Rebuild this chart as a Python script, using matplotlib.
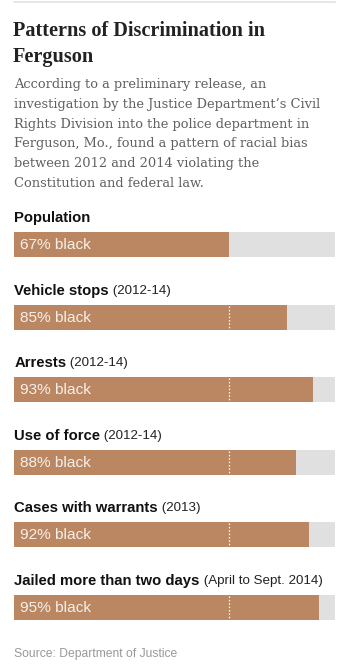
import matplotlib
matplotlib.use("Agg")
import matplotlib.pyplot as plt

categories = ["Population", "Vehicle stops", "Arrests", "Use of force",
              "Cases with warrants", "Jailed more than two days"]
periods = ["", "(2012-14)", "(2012-14)", "(2012-14)", "(2013)", "(April to Sept. 2014)"]
values = [67, 85, 93, 88, 92, 95]
reference = 67

title_lines = ["Patterns of Discrimination in", "Ferguson"]
body_lines = ["According to a preliminary release, an",
              "investigation by the Justice Department\u2019s Civil",
              "Rights Division into the police department in",
              "Ferguson, Mo., found a pattern of racial bias",
              "between 2012 and 2014 violating the",
              "Constitution and federal law."]
source = "Source: Department of Justice"

W, H = 350, 671
fig = plt.figure(figsize=(W / 100, H / 100), dpi=100)
fig.patch.set_facecolor("white")

ov = fig.add_axes([0, 0, 1, 1])
ov.set_xlim(0, W)
ov.set_ylim(H, 0)
ov.axis("off")

ov.plot([14, 335], [2, 2], color="#e2e2e2", lw=1.2)
for i, line in enumerate(title_lines):
    ov.text(13, 36 + i * 26, line, fontsize=14.6, fontweight="bold", family="Liberation Serif",
            color="#222222", va="baseline", ha="left")
for i, line in enumerate(body_lines):
    ov.text(14, 88 + i * 19.8, line, fontsize=9.4, family="DejaVu Serif", color="#606060",
            va="baseline", ha="left")
ov.text(14, 654, source, fontsize=8.75, family="Liberation Sans", color="#999999",
        va="center", ha="left")

left, right = 14, 335
y0, y1 = 200, 640
ax = fig.add_axes([left / W, 1 - y1 / H, (right - left) / W, (y1 - y0) / H])
ax.set_xlim(0, 100)
ax.set_ylim(y1, y0)
ax.axis("off")

bar_h = 25
step = 72.6
first_top = 232
brown = "#bb8762"
gray = "#e0e0e0"

fig.canvas.draw()
for i, (cat, per, v) in enumerate(zip(categories, periods, values)):
    yc = first_top + i * step + bar_h / 2
    ax.barh(yc, 100, height=bar_h, color=gray, align="center", lw=0)
    ax.barh(yc, v, height=bar_h, color=brown, align="center", lw=0)
    if i > 0:
        ax.plot([reference, reference], [yc - bar_h / 2 + 1, yc + bar_h / 2 - 1],
                color="white", lw=0.9, ls=(0, (1.2, 1.5)))
    ax.text(1.9, yc + 0.5, f"{v}% black", fontsize=11.1, family="Liberation Sans",
            color="#f7f0ea", va="center", ha="left")
    ly = yc - bar_h / 2 - 14
    t = ax.text(0.1, ly, cat, fontsize=10.7, fontweight="bold", family="Liberation Sans",
                color="#111111", va="center", ha="left")
    if per:
        bb = t.get_window_extent(renderer=fig.canvas.get_renderer())
        ax.annotate(" " + per, xy=(bb.x1, bb.y0 + 1), xycoords="figure pixels",
                    fontsize=9.6, family="Liberation Sans", color="#222222",
                    va="bottom", ha="left")

fig.savefig("out.png", dpi=100, facecolor="white")
